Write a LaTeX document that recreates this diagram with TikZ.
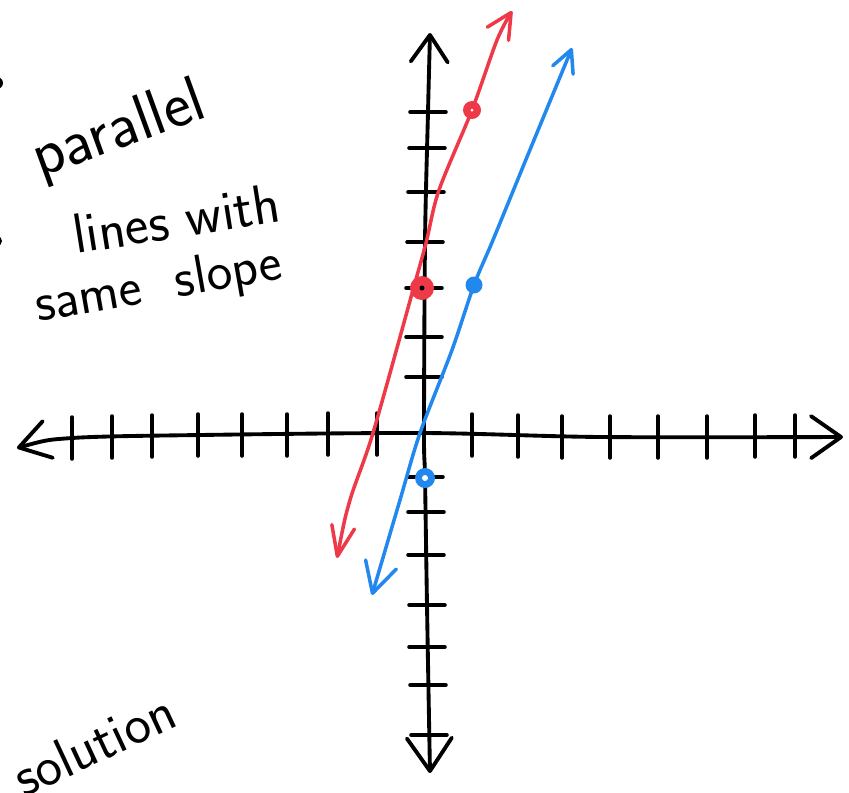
\documentclass[tikz,border=0pt]{standalone}
\usetikzlibrary{arrows.meta}
\definecolor{linered}{RGB}{238,58,72}
\definecolor{lineblue}{RGB}{34,136,238}

\begin{document}
\begin{tikzpicture}[x=0.02cm, y=-0.02cm,
    axis/.style={line width=2.2pt, line cap=round, line join=round},
    tick/.style={line width=2pt, line cap=round},
    graphline/.style={line width=2pt, line cap=round, line join=round},
    hand/.style={font=\sffamily, inner sep=0pt, anchor=base west}]
  \useasboundingbox (0,0) rectangle (849,792);

  % axes
  \coordinate (xleft) at (17,448);
  \coordinate (xright) at (843,437);
  \coordinate (ytop) at (430,33);
  \coordinate (ybot) at (430,773);
  \coordinate (orig) at (424,433);
  \draw[axis, {Straight Barb[length=6mm, width=7.6mm, round]}-{Straight Barb[length=6mm, width=8.4mm, round]}]
    plot[smooth] coordinates {(xleft) (72,438) (200,435) (orig) (600,437) (xright)};
  \draw[axis, {Straight Barb[length=6.6mm, width=9mm, round]}-{Straight Barb[length=5.4mm, width=7.4mm, round]}]
    plot[smooth] coordinates {(ybot) (427,605) (425,477) (orig) (425,242) (428,112) (ytop)};
  \foreach \x/\y in {72/438, 112/437, 152/436, 198/435, 242/435, 287/435, 328/434, 377/434,
                     472/435, 518/436, 562/437, 610/437, 658/437, 707/437, 755/436, 795/436}
    \draw[tick] (\x,\y-21) -- (\x,\y+21);
  \foreach \y/\x in {112/428, 148/427, 192/426, 242/425, 288/424, 337/424, 377/424,
                     477/425, 512/426, 555/426, 605/427, 647/427, 685/428, 735/429}
    \draw[tick] (\x-18,\y) -- (\x+18,\y);

  % red line
  \coordinate (rbot) at (337,558);
  \coordinate (rint) at (422,288);
  \coordinate (rpt) at (472,110);
  \coordinate (rtop) at (512,11);
  \draw[graphline, linered, {Straight Barb[length=6mm, width=4.6mm, round]}-{Straight Barb[length=5mm, width=5mm, round]}]
    plot[smooth] coordinates {(rbot) (350,500) (373,433) (413,290) (426,243) (439,190) (rpt) (497,40) (rtop)};

  % blue line
  \coordinate (bbot) at (372,595);
  \coordinate (bint) at (425,478);
  \coordinate (bpt) at (474,285);
  \coordinate (btop) at (572,48);
  \draw[graphline, lineblue, {Straight Barb[length=6mm, width=6.4mm, round]}-{Straight Barb[length=4.4mm, width=4.4mm, round]}]
    plot[smooth] coordinates {(bbot) (400,500) (420,433) (452,350) (bpt) (493,240) (527,157) (btop)};

  % points
  \fill[linered] (rpt) circle (9);
  \fill[white] (rpt) circle (1.5);
  \fill[linered] (rint) circle (12);
  \fill[black] (rint) circle (2.5);
  \fill[lineblue] (bpt) circle (8.5);
  \fill[lineblue] (bint) circle (10);
  \fill[white] (bint) circle (3);

  % notes
  \fill (-3,83) circle (6);
  \fill (-3,241) circle (5);
  \node[hand, rotate=20, font=\sffamily\fontsize{37}{40}\selectfont] (parallel) at (40,178) {parallel};
  \node[hand, rotate=9, font=\sffamily\fontsize{32}{34}\selectfont] (lines) at (76,254) {lines with};
  \node[hand, rotate=10, font=\sffamily\fontsize{31}{34}\selectfont] (slope) at (38,322) {same\ \ slope};
  \node[hand, rotate=25, font=\sffamily\fontsize{32}{34}\selectfont] (solution) at (24,798) {solution};
\end{tikzpicture}
\end{document}
